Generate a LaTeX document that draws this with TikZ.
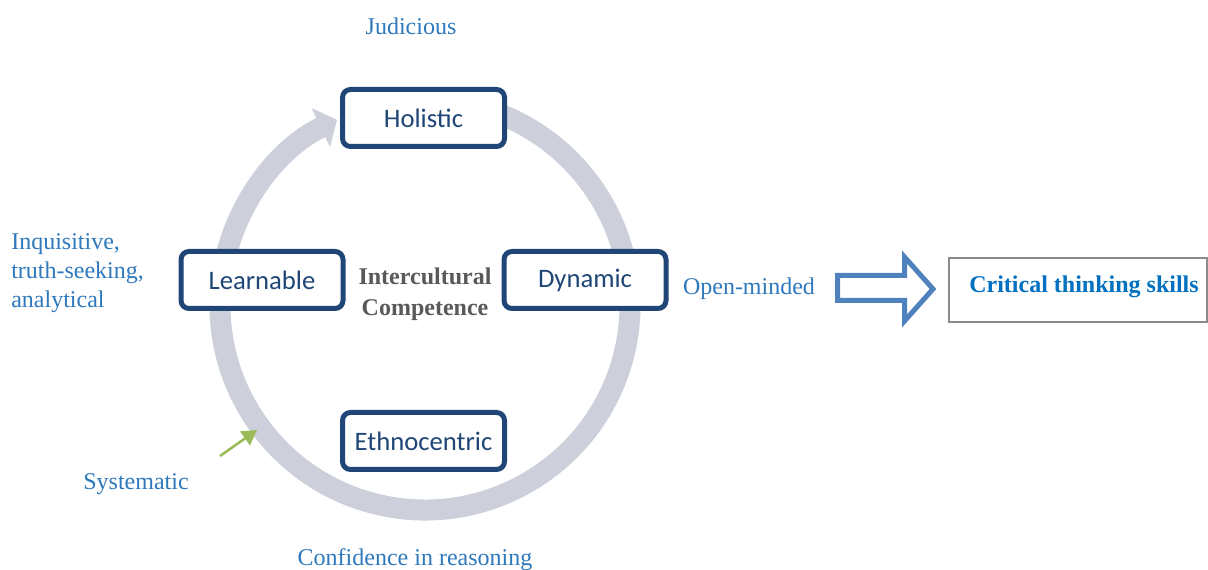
\documentclass[tikz,border=0pt]{standalone}
\usepackage{fontspec}
\setmainfont{Liberation Serif}
\newfontfamily\boxfont{Carlito}
\usetikzlibrary{arrows.meta}
\definecolor{navy}{HTML}{1F4676}
\definecolor{ringgray}{HTML}{CDD0DA}
\definecolor{labelblue}{HTML}{2E78BC}
\definecolor{critblue}{HTML}{0070C0}
\definecolor{textgray}{HTML}{595959}
\definecolor{sysgreen}{HTML}{9BBB59}
\definecolor{arrowblue}{HTML}{4F81BD}

\begin{document}
\begin{tikzpicture}[x=0.75pt,y=0.75pt,
    ring/.style={draw=ringgray,line width=15.75pt,-{Triangle[length=13.5pt,width=31.5pt]}},
    trait/.style={rectangle,rounded corners=6pt,draw=navy,fill=white,line width=3.75pt,
        minimum width=121.5pt,minimum height=42.75pt,inner sep=0pt,
        text=navy,font=\boxfont\fontsize{20}{24}\selectfont},
    core/.style={align=center,text=textgray,font=\bfseries\fontsize{18}{23.25}\selectfont},
    quality/.style={text=labelblue,inner sep=0pt,font=\fontsize{18}{21.75}\selectfont},
    pointer/.style={draw=sysgreen,line width=1.9pt,-{Triangle[length=11pt,width=12.5pt]}},
    hollow/.style={draw=arrowblue,fill=white,line width=3.75pt,miter limit=10},
    critbox/.style={rectangle,draw=gray!90,line width=1.2pt,minimum width=193.5pt,
        minimum height=48pt,text depth=9pt,text=critblue,
        font=\bfseries\fontsize{18}{22}\selectfont},]
\useasboundingbox (0,0) rectangle (1208,-570);
% cycle round the traits
\draw[ring] (425,-305) ++(78:205) arc[start angle=78,end angle=-244.6,radius=205];
\node[trait] (holistic) at (423.5,-118) {Holistic};
\node[trait] (learnable) at (262,-280) {Learnable};
\node[trait] (dynamic) at (585,-280) {Dynamic};
\node[trait] (ethno) at (423.5,-441) {Ethnocentric};
\node[core] (ic) at (425,-294) {Intercultural\\Competence};
% dispositions
\node[quality] (judicious) at (411,-26) {Judicious};
\node[quality,align=left,anchor=west] (inquisitive) at (11,-273) {Inquisitive,\\truth-seeking,\\analytical};
\node[quality] (openminded) at (749,-289) {Open-minded};
\node[quality] (systematic) at (136,-484) {Systematic};
\node[quality] (confidence) at (415,-560) {Confidence in reasoning};
\coordinate (sysTail) at (220,-456);
\coordinate (sysTip) at (257,-430);
\draw[pointer] (sysTail) -- (sysTip);
% outcome
\draw[hollow] (837.5,-275.5) -- (904.5,-275.5) -- (904.5,-257) -- (933,-289)
    -- (904.5,-321) -- (904.5,-300.5) -- (837.5,-300.5) -- cycle;
\node[critbox] (critical) at (1078,-290) {\hspace*{9pt}Critical thinking skills};
\end{tikzpicture}
\end{document}
